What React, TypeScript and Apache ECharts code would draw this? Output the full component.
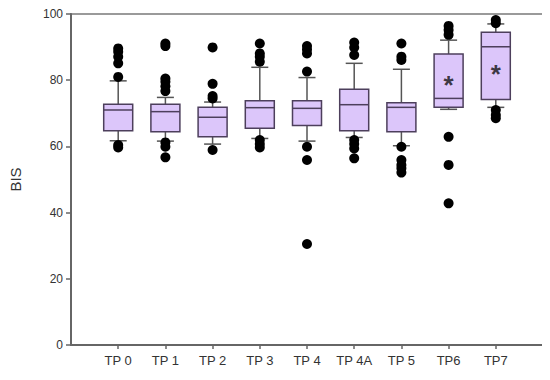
import React, { useEffect, useRef } from "react";
import * as echarts from "echarts";

const categories = ["TP 0", "TP 1", "TP 2", "TP 3", "TP 4", "TP 4A", "TP 5", "TP6", "TP7"];
const whiskerLow = [61.7, 61.6, 60.7, 62.4, 61.6, 62.7, 60.2, 71.2, 71.8];
const q1 = [64.7, 64.4, 62.9, 65.5, 66.3, 64.7, 64.4, 71.8, 74.2];
const median = [71.0, 70.5, 68.8, 71.7, 71.5, 72.6, 71.8, 74.5, 90.1];
const q3 = [72.7, 72.7, 71.8, 73.8, 73.8, 77.3, 73.2, 87.9, 94.5];
const whiskerHigh = [79.8, 74.8, 73.4, 83.9, 80.8, 85.1, 83.3, 92.1, 97.0];

const outliers: number[][] = [
  [89.6, 88.6, 87.1, 85.1, 81.0, 60.4, 59.7],
  [91.1, 90.3, 80.5, 79.5, 78.2, 76.7, 61.2, 59.9, 56.7],
  [89.9, 78.9, 75.2, 74.5, 58.9],
  [91.1, 88.1, 87.1, 85.6, 61.9, 60.7, 59.7],
  [90.3, 89.3, 88.1, 82.6, 59.9, 55.9, 30.5],
  [91.4, 89.9, 87.6, 61.9, 60.7, 59.4, 56.4],
  [91.1, 87.1, 86.1, 59.9, 55.9, 54.4, 53.4, 52.1],
  [96.4, 95.2, 93.7, 62.9, 54.4, 42.8],
  [98.2, 97.2, 71.0, 69.5, 68.5],
];

// significance markers (category, value)
const markerCats = ["TP6", "TP7"];
const markerValues = [80.5, 83.6];

const yTicks = [0, 20, 40, 60, 80, 100];

export default function App() {
  const ref = useRef<HTMLDivElement>(null);
  useEffect(() => {
    if (!ref.current) return;
    const chart = echarts.init(ref.current, null, { renderer: "svg" });
    const axisCats = ["", ...categories, ""];
    const boxData = categories.map((_, i) => [
      i + 1, whiskerLow[i], q1[i], median[i], q3[i], whiskerHigh[i],
    ]);
    const outlierData: number[][] = [];
    outliers.forEach((arr, i) => arr.forEach((v) => outlierData.push([i + 1, v])));
    const markerData = markerCats.map((c, k) => [categories.indexOf(c) + 1, markerValues[k]]);

    const boxColor = "#DCC6FA";
    const boxBorder = "#4d3f5c";
    const whiskerColor = "#555555";

    chart.setOption({
      animation: false,
      backgroundColor: "#ffffff",
      grid: {
        left: 69, right: 7, top: 14, bottom: 35,
        show: true, borderColor: "#7a7a7a", borderWidth: 1.5,
      },
      xAxis: {
        type: "category",
        data: axisCats,
        boundaryGap: false,
        axisLine: { lineStyle: { color: "#666", width: 2 } },
        axisTick: {
          show: true, length: 4,
          interval: (idx: number, val: string) => val !== "",
          lineStyle: { color: "#666", width: 1.5 },
        },
        axisLabel: {
          interval: (idx: number, val: string) => val !== "",
          color: "#333", fontSize: 13, fontFamily: "Liberation Sans", margin: 9,
        },
        splitLine: { show: false },
      },
      yAxis: {
        type: "value",
        min: 0, max: 100, interval: 20,
        name: "BIS",
        nameLocation: "middle",
        nameGap: 48,
        nameRotate: 90,
        nameTextStyle: { color: "#333", fontSize: 15, fontFamily: "Liberation Sans" },
        axisLine: { show: true, lineStyle: { color: "#666", width: 2 } },
        axisTick: { show: true, length: 5, lineStyle: { color: "#666", width: 1.5 } },
        axisLabel: {
          color: "#333", fontSize: 12, fontFamily: "Liberation Sans", margin: 8,
          formatter: (v: number) => (yTicks.includes(v) ? String(v) : ""),
        },
        splitLine: { show: false },
      },
      series: [
        {
          type: "custom",
          data: boxData,
          encode: { x: 0, y: [1, 2, 3, 4, 5] },
          renderItem: (params: any, api: any) => {
            const x = api.value(0);
            const pLo = api.coord([x, api.value(1)]);
            const pQ1 = api.coord([x, api.value(2)]);
            const pMed = api.coord([x, api.value(3)]);
            const pQ3 = api.coord([x, api.value(4)]);
            const pHi = api.coord([x, api.value(5)]);
            const cx = pLo[0];
            const half = 14.5;
            const cap = 8.5;
            const wStyle = { stroke: whiskerColor, lineWidth: 1.5 };
            return {
              type: "group",
              children: [
                { type: "line", shape: { x1: cx, y1: pLo[1], x2: cx, y2: pQ1[1] }, style: wStyle },
                { type: "line", shape: { x1: cx, y1: pQ3[1], x2: cx, y2: pHi[1] }, style: wStyle },
                { type: "line", shape: { x1: cx - cap, y1: pLo[1], x2: cx + cap, y2: pLo[1] }, style: wStyle },
                { type: "line", shape: { x1: cx - cap, y1: pHi[1], x2: cx + cap, y2: pHi[1] }, style: wStyle },
                {
                  type: "rect",
                  shape: { x: cx - half, y: pQ3[1], width: half * 2, height: pQ1[1] - pQ3[1] },
                  style: { fill: boxColor, stroke: boxBorder, lineWidth: 1.5 },
                },
                {
                  type: "line",
                  shape: { x1: cx - half, y1: pMed[1], x2: cx + half, y2: pMed[1] },
                  style: { stroke: boxBorder, lineWidth: 1.5 },
                },
              ],
            };
          },
          z: 2,
        },
        {
          type: "scatter",
          data: outlierData,
          symbol: "circle",
          symbolSize: 10,
          itemStyle: { color: "#000", opacity: 1 },
          z: 3,
        },
        {
          type: "scatter",
          data: markerData,
          symbol: "circle",
          symbolSize: 1,
          itemStyle: { color: "rgba(0,0,0,0)" },
          label: {
            show: true,
            position: "inside",
            formatter: "*",
            fontSize: 26,
            fontWeight: "bold",
            color: "#111",
            fontFamily: "Liberation Sans",
            offset: [0, 6],
          },
          z: 4,
        },
      ],
    });
    return () => chart.dispose();
  }, []);
  return <div ref={ref} style={{ width: 550, height: 380, margin: -8 }} />;
}
